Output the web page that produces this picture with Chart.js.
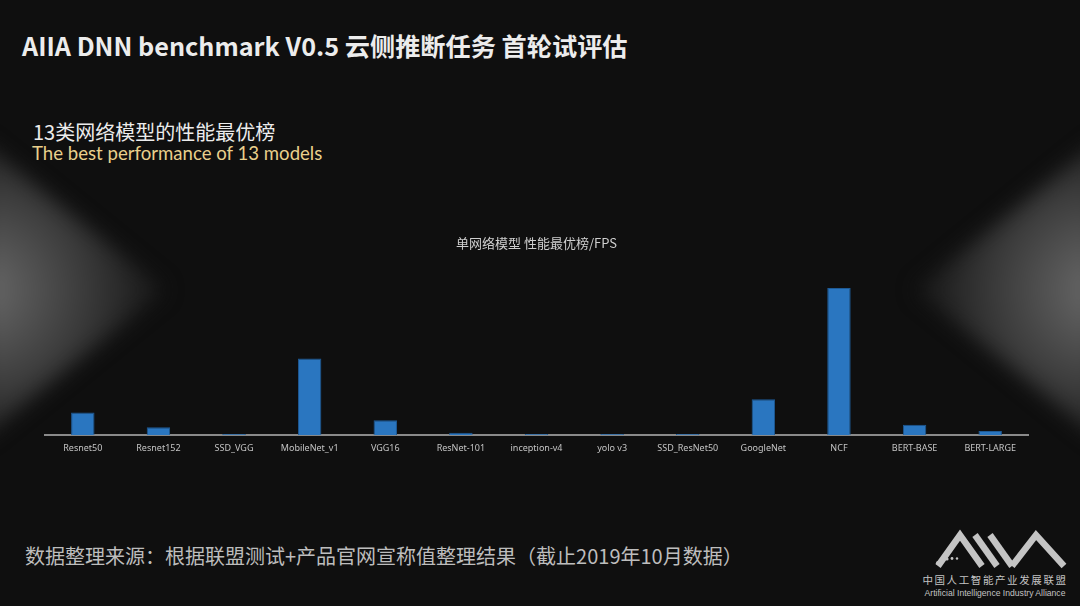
<!DOCTYPE html>
<html>
<head>
<meta charset="utf-8">
<script src="https://cdn.jsdelivr.net/npm/chart.js@4"></script>
<style>
  html, body { margin: 0; padding: 0; background: #0f0f0f; }
  #slide { position: relative; width: 1080px; height: 606px; overflow: hidden; background: #0f0f0f;
           font-family: "Noto Sans CJK SC", "Noto Sans", sans-serif; }
  .glow { position: absolute; filter: blur(10px); }
  .glow div { position: absolute; left: 0; top: 0; width: 100%; height: 100%; }
  #glowL { left: -20px; top: 140px; width: 185px; height: 300px; }
  #glowL div { clip-path: polygon(0 0, 100% 50%, 0 100%);
               background: radial-gradient(ellipse 100% 60% at 0% 50%, #6a6a6a 0%, #3c3c3c 55%, #151515 100%); }
  #glowR { left: 915px; top: 140px; width: 185px; height: 300px; }
  #glowR div { clip-path: polygon(100% 0, 0 50%, 100% 100%);
               background: radial-gradient(ellipse 100% 60% at 100% 50%, #6a6a6a 0%, #3c3c3c 55%, #151515 100%); }
  .txt { position: absolute; white-space: nowrap; }
  #title { left: 22px; top: 27px; font-size: 25.2px; font-weight: bold; color: #ececec; }
  #sub1 { left: 33px; top: 117px; font-size: 20px; color: #ececec; }
  #sub2 { left: 32px; top: 142px; font-size: 18.6px; color: #e9d08c; font-family: Lato, "Open Sans", sans-serif; }
  #note { left: 25px; top: 541px; font-size: 20px; color: #bdbdbd; }
  #chartBox { position: absolute; left: 0; top: 226px; width: 1080px; height: 236px; }
  #logo { position: absolute; left: 905px; top: 525px; width: 175px; height: 80px; }
</style>
</head>
<body>
<div id="slide">
  <div class="glow" id="glowL"><div></div></div>
  <div class="glow" id="glowR"><div></div></div>
  <div class="txt" id="title">AIIA DNN benchmark V0.5 云侧推断任务 首轮试评估</div>
  <div class="txt" id="sub1">13类网络模型的性能最优榜</div>
  <div class="txt" id="sub2">The best performance of 13 models</div>
  <div id="chartBox"><canvas id="mainChart"></canvas></div>
  <div class="txt" id="note">数据整理来源：根据联盟测试+产品官网宣称值整理结果（截止2019年10月数据）</div>
  <svg id="logo" viewBox="905 525 175 80">
    <g fill="none" stroke="#c4c4c4" stroke-width="6.5" stroke-linejoin="miter">
      <polyline points="938,566 960,535 982,566" />
      <line x1="975" y1="535" x2="997" y2="566" />
      <line x1="990" y1="535" x2="1012" y2="566" />
      <polyline points="1012,566 1036,535 1064,566" />
    </g>
    <g fill="#c4c4c4">
      <circle cx="938" cy="563" r="2" />
      <circle cx="942" cy="560" r="1.8" />
      <circle cx="947" cy="559" r="1.6" />
      <circle cx="952" cy="558.5" r="1.4" />
      <circle cx="957" cy="558.5" r="1.2" />
    </g>
    <text x="995" y="584" text-anchor="middle" font-size="10.5" fill="#c4c4c4"
          font-family="Noto Sans CJK SC" letter-spacing="1.6">中国人工智能产业发展联盟</text>
    <text x="995" y="596" text-anchor="middle" font-size="8.6" fill="#c4c4c4"
          font-family="Liberation Sans">Artificial Intelligence Industry Alliance</text>
  </svg>
</div>
<script>
// 单网络模型 性能最优榜 (relative bar heights)
const models = ['Resnet50', 'Resnet152', 'SSD_VGG', 'MobileNet_v1', 'VGG16', 'ResNet-101',
                'inception-v4', 'yolo v3', 'SSD_ResNet50', 'GoogleNet', 'NCF', 'BERT-BASE', 'BERT-LARGE'];
const fpsValues = [22.7, 8, 1.3, 76.3, 15, 2.4, 1.3, 1.3, 1.3, 35.7, 146.7, 10.3, 4.3];
const chartTitle = '单网络模型 性能最优榜/FPS';

const ctx = document.getElementById('mainChart');
new Chart(ctx, {
    type: 'bar',
    data: {
        labels: models,
        datasets: [{
            label: 'FPS',
            data: fpsValues,
            backgroundColor: '#2a76c0',
            borderColor: '#1e5a95',
            borderWidth: 1,
            barPercentage: 0.31,
            categoryPercentage: 1.0
        }]
    },
    options: {
        responsive: true,
        maintainAspectRatio: false,
        animation: false,
        layout: { padding: { left: 45, right: 52, top: 4, bottom: 0 } },
        plugins: {
            legend: { display: false },
            tooltip: { enabled: false },
            title: {
                display: true,
                text: chartTitle,
                color: '#cfcfcf',
                font: { size: 13, family: 'Noto Sans CJK SC', weight: 'normal' },
                padding: { top: 5, bottom: 24 }
            }
        },
        scales: {
            y: {
                display: false,
                min: 0,
                max: 160
            },
            x: {
                grid: { display: false, drawTicks: false },
                border: { display: true, color: '#8a8a8a', width: 2 },
                ticks: { color: '#c4c4c4', padding: 8, maxRotation: 0, autoSkip: false,
                         font: { size: 9, family: 'Noto Sans' } }
            }
        }
    }
});
</script>
</body>
</html>
